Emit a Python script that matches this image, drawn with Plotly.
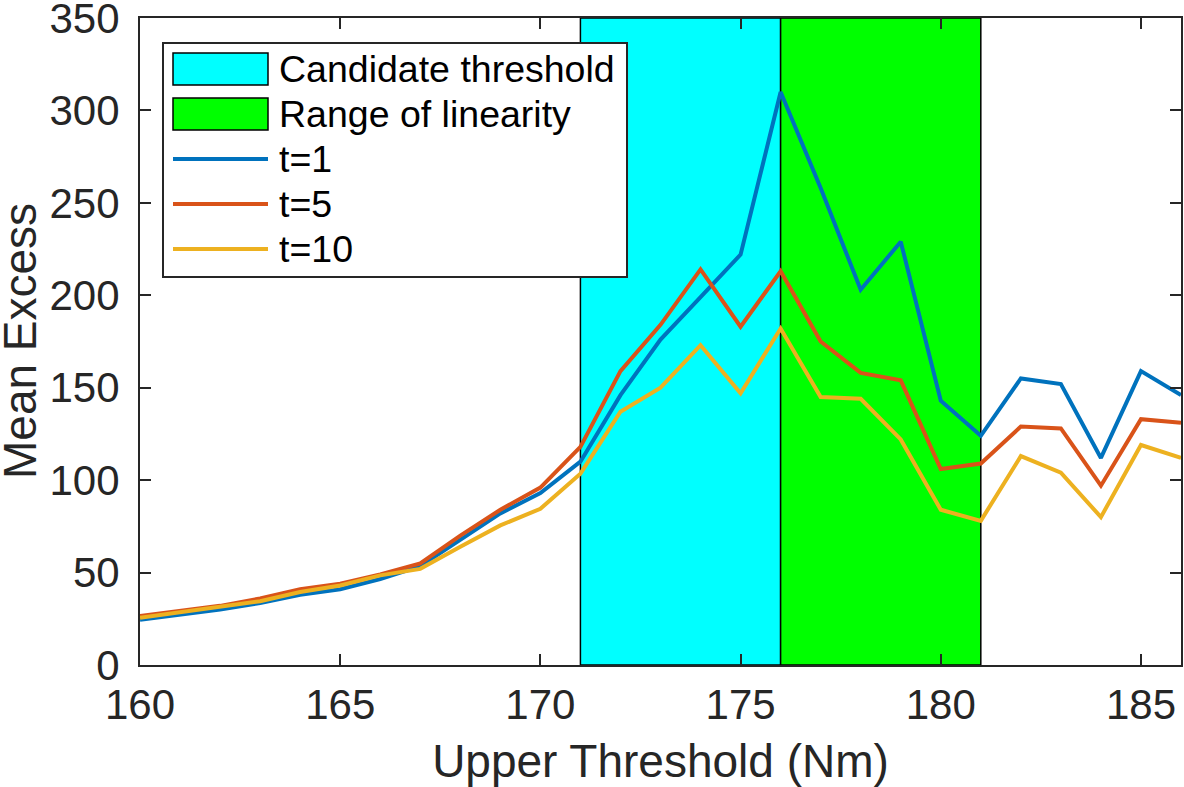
import plotly.graph_objects as go

# ---- data ----
thresholds = list(range(160, 187))
t1 = [24.5, 27, 30, 33.5, 38, 41, 46.5, 53.5, 68, 82, 93, 110, 146, 176, 199, 222,
      310, 258, 203, 229, 143, 124, 155, 152, 112, 159, 146]
t5 = [26.5, 29.5, 32, 36, 41, 44, 49, 55, 70, 84, 96, 118, 159, 184, 214, 183,
      213, 175, 158, 154, 106, 109, 129, 128, 97, 133, 131]
t10 = [25.5, 28.5, 31, 34.5, 39.5, 43, 48.5, 52, 64, 75.5, 84.5, 103.5, 137, 150, 173, 147,
       182, 145, 144, 122, 84, 78, 113, 104, 80, 119, 112]
series_names = ["t=1", "t=5", "t=10"]
series_colors = ["#0072BD", "#D95319", "#EDB120"]
candidate_range = [171, 176]
linearity_range = [176, 181]
region_names = ["Candidate threshold", "Range of linearity"]
region_colors = ["#00FFFF", "#00FF00"]
x_ticks = [160, 165, 170, 175, 180, 185]
y_ticks = [0, 50, 100, 150, 200, 250, 300, 350]
x_title = "Upper Threshold (Nm)"
y_title = "Mean Excess"

W, H = 1184, 787
L, R, T, B = 140, 3, 18, 122
FONT = "Liberation Sans, Arial, Helvetica, sans-serif"
AX = "#262626"

fig = go.Figure()

# shaded regions
for rng, col in zip([candidate_range, linearity_range], region_colors):
    fig.add_shape(type="rect", xref="x", yref="y", x0=rng[0], x1=rng[1], y0=0, y1=350,
                  fillcolor=col, line=dict(color="black", width=1.5), layer="below")

for ys, name, col in zip([t1, t5, t10], series_names, series_colors):
    fig.add_trace(go.Scatter(x=thresholds, y=ys, mode="lines", name=name,
                             line=dict(color=col, width=4), showlegend=False))

# ---- manual legend (MATLAB style) ----
pw = W - L - R
ph = H - T - B
def px(xp):
    return (xp - L) / pw
def py(yp):
    return (H - B - yp) / ph

fig.add_shape(type="rect", xref="paper", yref="paper", x0=px(163), x1=px(627), y0=py(277), y1=py(43),
              fillcolor="white", line=dict(color=AX, width=2), layer="above")
row_y = [69, 114, 159, 204, 249]
for i, (name, col) in enumerate(zip(region_names, region_colors)):
    yc = row_y[i]
    fig.add_shape(type="rect", xref="paper", yref="paper", x0=px(173), x1=px(268),
                  y0=py(yc + 16), y1=py(yc - 16), fillcolor=col,
                  line=dict(color="black", width=1.5), layer="above")
for j, (name, col) in enumerate(zip(series_names, series_colors)):
    yc = row_y[2 + j]
    fig.add_shape(type="line", xref="paper", yref="paper", x0=px(173), x1=px(268),
                  y0=py(yc), y1=py(yc), line=dict(color=col, width=4), layer="above")
for name, yc in zip(region_names + series_names, row_y):
    fig.add_annotation(xref="paper", yref="paper", x=px(277), y=py(yc), text=name,
                       showarrow=False, xanchor="left", yanchor="middle",
                       font=dict(family=FONT, size=37.5, color="black"))

# y-axis title placed as rotated text
fig.add_annotation(xref="paper", yref="paper", x=px(20), y=py(341), text=y_title,
                   textangle=-90, showarrow=False, xanchor="center", yanchor="middle",
                   font=dict(family=FONT, size=46, color=AX))

axis_common = dict(showline=True, linecolor=AX, linewidth=2, mirror="allticks",
                   ticks="inside", ticklen=11, tickwidth=2, tickcolor=AX,
                   showgrid=False, zeroline=False, ticklabeloverflow="allow",
                   tickfont=dict(family=FONT, size=42, color=AX))

fig.update_xaxes(range=[160, 186], tickvals=x_ticks, ticklabelstandoff=2, **axis_common,
                 title=dict(text=x_title, standoff=17,
                            font=dict(family=FONT, size=46, color=AX)))
fig.update_yaxes(range=[0, 350], tickvals=y_ticks, ticklabelstandoff=10, **axis_common)

fig.update_layout(width=W, height=H, margin=dict(l=L, r=R, t=T, b=B, autoexpand=False),
                  plot_bgcolor="white", paper_bgcolor="white", showlegend=False)

fig.write_html("out.html", config={"displayModeBar": False},
               post_script="document.body.style.margin='0';document.body.style.padding='0';")
